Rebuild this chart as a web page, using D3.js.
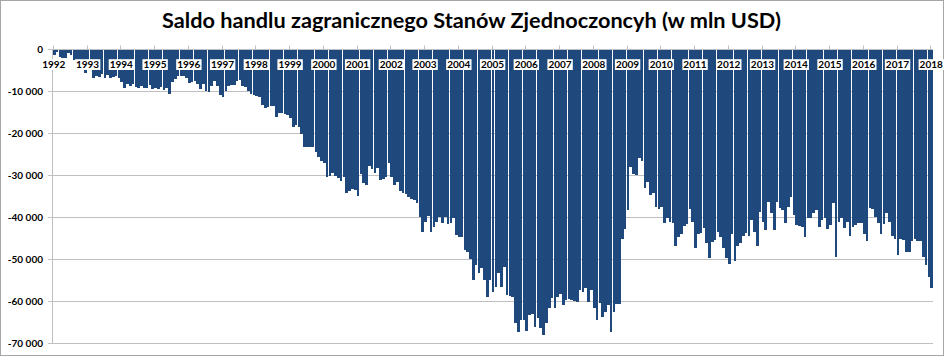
<!DOCTYPE html>
<html><head><meta charset="utf-8">
<script src="https://cdn.jsdelivr.net/npm/d3@7"></script>
<style>html,body{margin:0;padding:0;background:#fff;} svg{display:block;}</style>
</head><body>
<svg id="chart" width="945" height="357"></svg>
<script>
const title = "Saldo handlu zagranicznego Stanów Zjednoczoncyh (w mln USD)";
const years = ["1992","1993","1994","1995","1996","1997","1998","1999","2000","2001","2002","2003","2004","2005","2006","2007","2008","2009","2010","2011","2012","2013","2014","2015","2016","2017","2018"];
const yTickValues = [0, -10000, -20000, -30000, -40000, -50000, -60000, -70000];

// monthly trade balance, million USD
const bal1992 = [-1200, -700, -1700, -2000, -2100, -800, -1200, -2500, -3000, -3300, -3600, -5700];
const bal1993 = [-4300, -4800, -6900, -6200, -6500, -5900, -6900, -6100, -6900, -6500, -6200, -6900];
const bal1994 = [-7700, -9250, -8300, -8600, -8300, -8900, -9100, -8600, -9250, -9100, -8500, -9400];
const bal1995 = [-9100, -9400, -8900, -9600, -9250, -10700, -7700, -7000, -6400, -6200, -6400, -6900];
const bal1996 = [-8000, -7700, -7400, -8300, -9300, -8200, -9800, -10000, -8600, -7600, -8800, -10800];
const bal1997 = [-11200, -9800, -8800, -8500, -8400, -7500, -7300, -8600, -8900, -9800, -10600, -10800];
const bal1998 = [-11000, -11400, -13200, -14000, -13800, -13500, -13500, -16000, -15000, -15000, -15300, -15600];
const bal1999 = [-16300, -18400, -18000, -18400, -20000, -23200, -23200, -23100, -23300, -24400, -25700, -26600];
const bal2000 = [-27000, -30300, -30000, -29500, -30100, -30600, -31400, -30400, -34200, -33600, -33100, -33500];
const bal2001 = [-34900, -29700, -31800, -32200, -27700, -28500, -29500, -28300, -31100, -30900, -30300, -27100];
const bal2002 = [-30300, -32300, -31500, -33800, -34200, -34400, -35000, -35700, -35800, -36500, -39800, -43400];
const bal2003 = [-41000, -39600, -43400, -42200, -41000, -39800, -41200, -39800, -41500, -41400, -40200, -44200];
const bal2004 = [-44600, -44600, -47800, -48100, -49900, -54900, -51400, -53300, -52000, -54900, -58900, -54900];
const bal2005 = [-57700, -56500, -53100, -56500, -51700, -58500, -58700, -58900, -65200, -67200, -64400, -64400];
const bal2006 = [-67000, -63200, -63000, -66000, -64000, -66400, -68000, -65200, -61600, -59100, -61600, -58900];
const bal2007 = [-58100, -60800, -59600, -59400, -59600, -59900, -60000, -57300, -57700, -56900, -60000, -57300];
const bal2008 = [-61600, -64400, -60400, -63800, -62400, -60800, -67200, -62400, -60700, -60500, -45000, -42700];
const bal2009 = [-38200, -28000, -29600, -29900, -25800, -26500, -32900, -31600, -34600, -34200, -37400, -38000];
const bal2010 = [-37400, -41400, -40200, -41100, -41400, -46700, -44600, -44000, -42000, -41500, -38000, -41100];
const bal2011 = [-47300, -44000, -43800, -42400, -46000, -49600, -45900, -45400, -43500, -44700, -47300, -49700];
const bal2012 = [-51100, -44000, -50300, -46800, -46000, -44500, -43800, -44300, -40600, -43400, -46900, -38600];
const bal2013 = [-41100, -43000, -36200, -39000, -43000, -36200, -37800, -38200, -41400, -37400, -35000, -39400];
const bal2014 = [-41800, -42000, -42200, -44600, -40200, -40000, -39000, -38200, -42200, -40600, -40000, -42700];
const bal2015 = [-41800, -36600, -49300, -41000, -40200, -42600, -41000, -44300, -42200, -41800, -41200, -41400];
const bal2016 = [-44000, -45600, -37700, -38000, -39800, -41400, -44000, -41600, -39000, -41000, -44500, -45200];
const bal2017 = [-48900, -45200, -45400, -48300, -48100, -45700, -45000, -45600, -45700, -49300, -51300, -54100];
const bal2018 = [-56900];

const balances = [bal1992,bal1993,bal1994,bal1995,bal1996,bal1997,bal1998,bal1999,bal2000,bal2001,bal2002,bal2003,bal2004,bal2005,bal2006,bal2007,bal2008,bal2009,bal2010,bal2011,bal2012,bal2013,bal2014,bal2015,bal2016,bal2017,bal2018];

(function () {
const data = [];
years.forEach((yr, k) => balances[k].forEach((v, m) => data.push({key: yr + "-" + String(m + 1).padStart(2, "0"), year: yr, month: m + 1, value: v})));

const svg = d3.select("#chart");
const W = 945, H = 357;
const pLeft = 53, pRight = 933, pTop = 49.5, pBottom = 343.5;
const barColor = "#1f497d";
const gridColor = "#bfbfbf";
const font = "Lato, 'Open Sans', 'Liberation Sans', sans-serif";

const x = d3.scaleBand().domain(data.map(d => d.key)).range([pLeft, pRight]).paddingInner(0.07).paddingOuter(0);
const y = d3.scaleLinear().domain([0, -70000]).range([pTop, pBottom]);

const loc = d3.formatLocale({decimal: ",", thousands: " ", grouping: [3], currency: ["", ""], minus: "-"});
const fmt = loc.format(",d");

// outer border
svg.append("rect").attr("x", 0.5).attr("y", 0.5).attr("width", W - 2).attr("height", H - 2)
  .attr("fill", "#fff").attr("stroke", "#a6a6a6");

// gridlines
svg.append("g").selectAll("line").data(yTickValues.filter(v => v !== 0)).join("line")
  .attr("x1", pLeft - 5).attr("x2", pRight)
  .attr("y1", d => y(d)).attr("y2", d => y(d))
  .attr("stroke", gridColor).attr("stroke-width", 1);

// bars
svg.append("g").attr("shape-rendering", "crispEdges").selectAll("rect").data(data).join("rect")
  .attr("x", d => x(d.key))
  .attr("width", x.bandwidth())
  .attr("y", y(0))
  .attr("height", d => y(d.value) - y(0))
  .attr("fill", barColor);

// axes lines
svg.append("line").attr("x1", pLeft - 0.5).attr("x2", pLeft - 0.5).attr("y1", pTop).attr("y2", pBottom)
  .attr("stroke", gridColor);
svg.append("line").attr("x1", pLeft - 5).attr("x2", pRight).attr("y1", pTop).attr("y2", pTop)
  .attr("stroke", gridColor);

// year ticks on top axis
const janData = data.filter(d => d.month === 1);
svg.append("g").selectAll("line").data(janData).join("line")
  .attr("x1", d => Math.round(x(d.key)) + 0.5).attr("x2", d => Math.round(x(d.key)) + 0.5)
  .attr("y1", pTop - 4).attr("y2", pTop)
  .attr("stroke", gridColor);

// y labels
svg.append("g").selectAll("text").data(yTickValues).join("text")
  .attr("x", 43).attr("y", d => y(d)).attr("dy", "0.35em")
  .attr("text-anchor", "end")
  .attr("font-family", font).attr("font-weight", 700).attr("font-size", "10px")
  .attr("fill", "#000")
  .text(d => fmt(d));

// year labels with white boxes
const lab = svg.append("g").selectAll("g").data(janData).join("g")
  .attr("transform", d => `translate(${x(d.key) + 0.8},64.6)`);
lab.append("rect");
lab.append("text")
  .attr("text-anchor", "middle").attr("dy", "0.36em")
  .attr("font-family", font).attr("font-weight", 700).attr("font-size", "10px")
  .attr("fill", "#000")
  .text(d => d.year);
lab.each(function() {
  const g = d3.select(this);
  const bb = g.select("text").node().getBBox();
  g.select("rect").attr("x", bb.x - 1).attr("y", -5.4).attr("width", bb.width + 2).attr("height", 10.8).attr("fill", "#fff");
});

// title
const t = svg.append("text")
  .attr("x", 471.5).attr("y", 28)
  .attr("text-anchor", "middle")
  .attr("font-family", font).attr("font-weight", 700).attr("font-size", "20px")
  .attr("fill", "#000")
  .text(title);
const tw = t.node().getBBox().width;
t.attr("font-size", (20 * 619 / tw).toFixed(2) + "px");
})();
</script>
</body></html>
